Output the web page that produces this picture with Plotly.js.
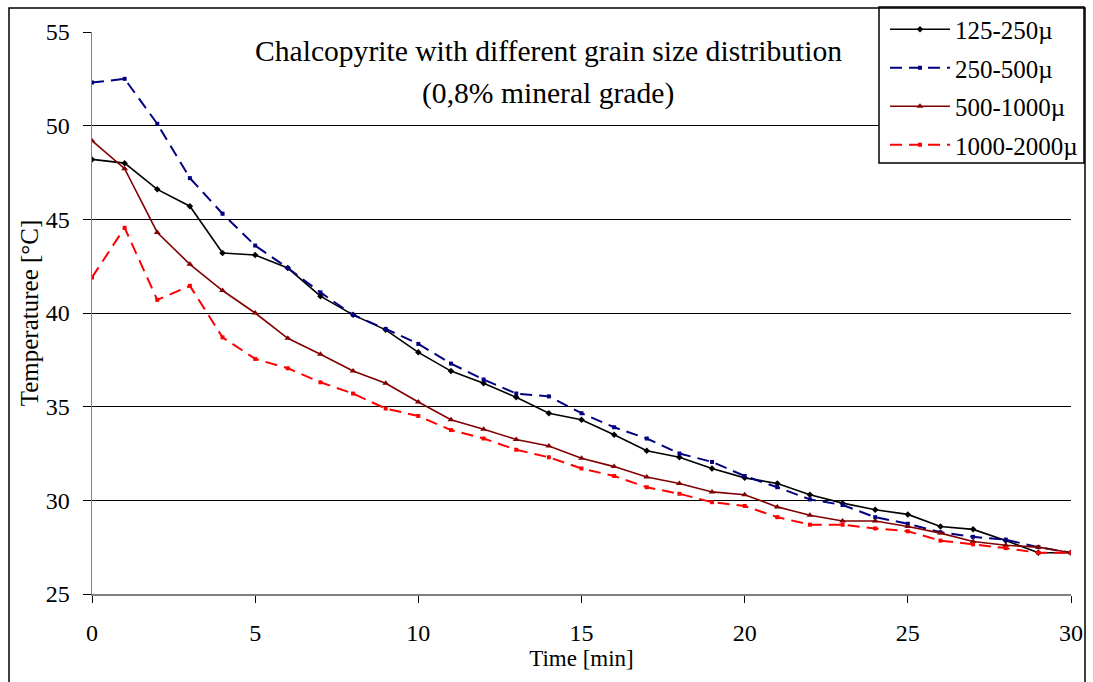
<!DOCTYPE html>
<html>
<head>
<meta charset="utf-8">
<script src="https://cdn.plot.ly/plotly-3.0.1.min.js"></script>
<style>
  html, body { margin: 0; padding: 0; background: #fff; }
  #chart { width: 1093px; height: 682px; }
</style>
</head>
<body>
<div id="chart"></div>
<script>
const time = [0,1,2,3,4,5,6,7,8,9,10,11,12,13,14,15,16,17,18,19,20,21,22,23,24,25,26,27,28,29,30];

const s125_250 = [48.2,48.0,46.6,45.7,43.2,43.1,42.4,40.9,39.9,39.1,37.9,36.9,36.25,35.5,34.65,34.3,33.5,32.65,32.3,31.7,31.2,30.9,30.3,29.85,29.5,29.25,28.6,28.45,27.85,27.2,27.2];
const s250_500 = [52.3,52.5,50.1,47.2,45.3,43.6,42.4,41.1,39.9,39.15,38.35,37.3,36.45,35.7,35.55,34.65,33.9,33.3,32.5,32.05,31.3,30.7,30.05,29.75,29.1,28.75,28.3,28.05,27.9,27.5,27.2];
const s500_1000 = [49.2,47.7,44.3,42.6,41.2,40.0,38.65,37.8,36.9,36.25,35.25,34.3,33.8,33.25,32.9,32.25,31.8,31.25,30.9,30.45,30.3,29.65,29.2,28.9,28.9,28.6,28.25,27.8,27.6,27.5,27.2];
const s1000_2000 = [41.9,44.55,40.7,41.45,38.7,37.55,37.05,36.3,35.7,34.9,34.5,33.75,33.3,32.7,32.3,31.7,31.3,30.7,30.35,29.9,29.7,29.1,28.7,28.7,28.5,28.35,27.85,27.65,27.45,27.2,27.2];

const seriesNames = ['125-250\u00b5','250-500\u00b5','500-1000\u00b5','1000-2000\u00b5'];
const yTicks = [25,30,35,40,45,50,55];
const xTicks = [0,5,10,15,20,25,30];
const titleLines = ['Chalcopyrite with different grain size distribution','(0,8% mineral grade)'];

const FONT = 'Liberation Serif';

const traces = [
  {x: time, y: s125_250, name: seriesNames[0], legendgroup: 'a', mode: 'lines+markers',
   line: {color: '#000000', width: 1.6}, marker: {symbol: 'diamond', size: 5, color: '#000000'}},
  {x: time, y: s250_500, name: seriesNames[1], legendgroup: 'b', mode: 'lines+markers',
   line: {color: '#000080', width: 2, dash: '12px,7px'}, marker: {symbol: 'square', size: 4, color: '#000080'}},
  {x: time, y: s500_1000, name: seriesNames[2], legendgroup: 'c', mode: 'lines+markers',
   line: {color: '#800000', width: 1.6}, marker: {symbol: 'triangle-up', size: 6, color: '#800000'}},
  {x: time, y: s1000_2000, name: seriesNames[3], legendgroup: 'd', mode: 'lines+markers',
   line: {color: '#ff0000', width: 2, dash: '12px,7px'}, marker: {symbol: 'square', size: 4, color: '#ff0000'}}
];

const L = 92, R = 1071, T = 32, B = 594;
const W = R - L, H = B - T;
const px = v => (v - L) / W;
const py = v => (B - v) / H;

const layout = {
  width: 1093, height: 682,
  margin: {l: L, r: 1093 - R, t: T, b: 682 - B, pad: 0, autoexpand: false},
  paper_bgcolor: '#ffffff', plot_bgcolor: '#ffffff',
  font: {family: FONT, size: 24, color: '#000000'},
  showlegend: true,
  legend: {
    x: px(885), y: py(6.5), xanchor: 'left', yanchor: 'top',
    bgcolor: 'rgba(0,0,0,0)', borderwidth: 0,
    font: {family: FONT, size: 25, color: '#000000'},
    traceorder: 'grouped', tracegroupgap: 3, itemwidth: 60
  },
  xaxis: {
    range: [0, 30], tickvals: xTicks, ticktext: xTicks.map(String),
    showgrid: false, zeroline: false,
    showline: true, linecolor: '#808080', linewidth: 2,
    ticks: 'outside', ticklen: 7, tickcolor: '#000000', tickwidth: 1,
    tickfont: {family: FONT, size: 24, color: '#000000'},
    ticklabelstandoff: 9,
    title: {text: 'Time [min]', font: {family: FONT, size: 23, color: '#000000'}, standoff: 4}
  },
  yaxis: {
    range: [25, 55], tickvals: yTicks, ticktext: yTicks.map(String),
    showgrid: true, gridcolor: '#000000', gridwidth: 1,
    zeroline: false,
    showline: true, linecolor: '#808080', linewidth: 1.5,
    ticks: 'outside', ticklen: 8, tickcolor: '#000000', tickwidth: 1,
    tickfont: {family: FONT, size: 24, color: '#000000'},
    ticklabelstandoff: 8,
    title: {text: 'Temperaturee [\u00b0C]', font: {family: FONT, size: 25, color: '#000000'}, standoff: 0}
  },
  annotations: [
    {xref: 'paper', yref: 'paper', x: px(548), y: py(51), xanchor: 'center', yanchor: 'middle',
     text: titleLines[0], showarrow: false, font: {family: FONT, size: 29.6, color: '#000000'}},
    {xref: 'paper', yref: 'paper', x: px(548), y: py(94), xanchor: 'center', yanchor: 'middle',
     text: titleLines[1], showarrow: false, font: {family: FONT, size: 29.6, color: '#000000'}}
  ],
  shapes: [
    {type: 'rect', xref: 'paper', yref: 'paper', layer: 'above',
     x0: px(879), x1: px(1084), y0: py(163), y1: py(7),
     line: {color: '#000000', width: 1.5}, fillcolor: '#ffffff'},
    {type: 'rect', xref: 'paper', yref: 'paper', layer: 'above',
     x0: px(9), x1: px(1085), y0: py(700), y1: py(8),
     line: {color: '#000000', width: 1.5}, fillcolor: 'rgba(0,0,0,0)'}
  ]
};

Plotly.newPlot('chart', traces, layout, {displayModeBar: false, staticPlot: true});
</script>
</body>
</html>
